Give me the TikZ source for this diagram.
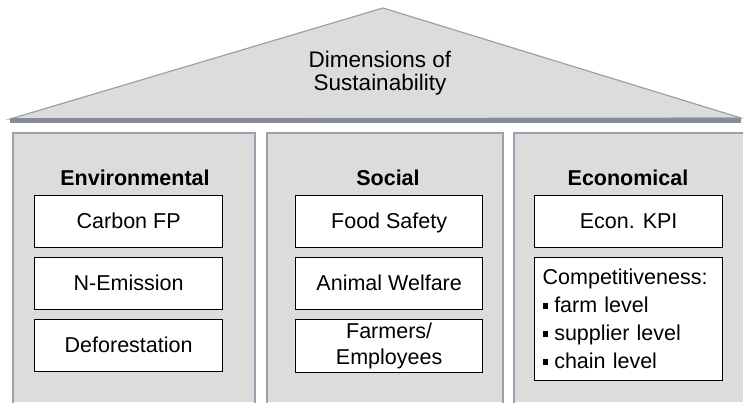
\documentclass[tikz,border=0pt]{standalone}
\usepackage{fontspec}
\setmainfont{Liberation Sans}
\newcommand{\sqbul}{\rule[0.18em]{0.24em}{0.3em}\hspace{0.3em}}
\begin{document}
\begin{tikzpicture}[x=1pt,y=-1pt,
  fs/.style={font=\fontsize{21.5}{27}\selectfont},
  roof/.style={fill=roofgray,draw=edgegray,line width=1.2pt},
  col/.style={draw=edgegray,line width=1.2pt},
  hdr/.style={font=\fontsize{21.5}{27}\selectfont\bfseries,anchor=center},
  box/.style={draw=black,fill=white,line width=1.3pt,anchor=north west,inner sep=0pt,align=center,fs,minimum width=188pt},
  item/.style={box,minimum height=52pt,text height=15.5pt,text depth=1.5pt}
]
\definecolor{roofgray}{HTML}{DCDCDC}
\definecolor{edgegray}{HTML}{9AA0B0}
\definecolor{bargray}{HTML}{868C98}
\useasboundingbox (0,0) rectangle (743,402);
\fill[white] (0,0) rectangle (743,402);
% roof
\coordinate (apex) at (383,8);
\coordinate (rl) at (10,119);
\coordinate (rr) at (741,118);
\draw[roof] (rl) -- (apex) -- (rr) -- cycle;
\fill[bargray] (10,117.5) rectangle (741,123);
\node[font=\fontsize{22.5}{23}\selectfont,align=center] (title) at (380,73) {Dimensions of\\Sustainability};
% columns
\fill[roofgray] (13,133) rectangle (255,402);
\draw[col] (13,403) -- (13,133) -- (255,133) -- (255,403);
\fill[roofgray] (267,133) rectangle (503,402);
\draw[col] (267,403) -- (267,133) -- (503,133) -- (503,403);
\fill[roofgray] (514,133) rectangle (743,402);
\draw[col] (514,403) -- (514,133) -- (744,133);
% headers
\node[hdr] (env) at (135,178) {Environmental};
\node[hdr] (soc) at (388,178) {Social};
\node[hdr] (eco) at (628,178) {Economical};
% environmental items
\node[item] (cfp) at (34,195) {Carbon FP};
\node[item] (nem) at (34,257) {N-Emission};
\node[item] (def) at (34,319) {Deforestation};
% social items
\node[item,minimum width=187pt] (food) at (295,195) {Food Safety};
\node[item,minimum width=187pt] (anim) at (295,257) {Animal Welfare};
\node[box,minimum width=187pt,minimum height=53pt,font=\fontsize{21.5}{26}\selectfont] (farm) at (295,319) {Farmers/\\Employees};
% economical items
\node[item] (kpi) at (534,195) {Econ. KPI};
\node[box,minimum height=123pt,text width=172pt,inner xsep=8pt,align=left,font=\fontsize{21.5}{28}\selectfont] (comp) at (534,257) {Competitiveness:\\\sqbul farm level\\\sqbul supplier level\\\sqbul chain level};
\end{tikzpicture}
\end{document}
